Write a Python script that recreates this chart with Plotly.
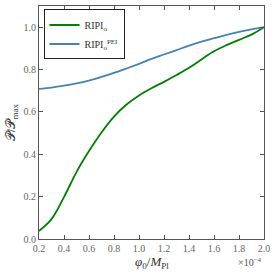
import plotly.graph_objects as go

phi = [0.2, 0.3, 0.4, 0.5, 0.6, 0.7, 0.8, 0.9, 1.0, 1.1, 1.2, 1.3, 1.4, 1.5, 1.6, 1.7, 1.8, 1.9, 2.0]
ripi_o = [0.038, 0.094, 0.198, 0.316, 0.415, 0.503, 0.578, 0.635, 0.678, 0.712, 0.742, 0.774, 0.808, 0.848, 0.886, 0.915, 0.94, 0.965, 1.0]
ripi_pei = [0.709, 0.715, 0.724, 0.735, 0.748, 0.765, 0.784, 0.805, 0.827, 0.85, 0.871, 0.892, 0.913, 0.932, 0.948, 0.964, 0.978, 0.99, 1.0]
xticks = [0.2, 0.4, 0.6, 0.8, 1.0, 1.2, 1.4, 1.6, 1.8, 2.0]
yticks = [0.0, 0.2, 0.4, 0.6, 0.8, 1.0]

SERIF = "Liberation Serif, DejaVu Serif, serif"

fig = go.Figure()
fig.add_trace(go.Scatter(x=phi, y=ripi_o, mode="lines",
                         line=dict(color="#008000", width=1.8, shape="spline", smoothing=1.0),
                         name="RIPI<sub>o</sub>"))
fig.add_trace(go.Scatter(x=phi, y=ripi_pei, mode="lines",
                         line=dict(color="#4682b4", width=1.8, shape="spline", smoothing=1.0),
                         name="RIPI<sub>o</sub><sup>PEI</sup>"))

axis_common = dict(showline=True, linecolor="#555555", linewidth=1.2, mirror="ticks", ticks="inside",
                   ticklen=4, tickcolor="#555555", showgrid=False, zeroline=False,
                   tickfont=dict(family=SERIF, size=10, color="#666666"))
fig.update_xaxes(range=[0.2, 2.0], tickvals=xticks, ticktext=[f"{v:.1f}" for v in xticks],
                 automargin=False, **axis_common)
fig.update_yaxes(range=[0, 1.1], tickvals=yticks, ticktext=[f"{v:.1f}" for v in yticks],
                 title=dict(text="𝒫/𝒫<sub>max</sub>",
                            font=dict(family=SERIF, size=13, color="#333333"), standoff=4),
                 automargin=False, **axis_common)
fig.add_annotation(text="<i>φ</i><sub>0</sub>/<i>M</i><sub>Pl</sub>", xref="paper", yref="paper",
                   x=0.5, y=-0.102, xanchor="center", yanchor="middle", showarrow=False,
                   font=dict(family=SERIF, size=13, color="#333333"))
fig.add_annotation(text="×10<sup>−4</sup>", xref="paper", yref="paper", x=1.0, y=-0.065,
                   xanchor="right", yanchor="top", showarrow=False,
                   font=dict(family=SERIF, size=10, color="#555555"))
fig.update_layout(width=276, height=275, margin=dict(l=39, r=12, t=6, b=36, autoexpand=False),
                  paper_bgcolor="white", plot_bgcolor="white",
                  legend=dict(x=0.02, y=0.985, xanchor="left", yanchor="top", bordercolor="#222222",
                              borderwidth=1, bgcolor="white",
                              font=dict(family=SERIF, size=10, color="#333333"),
                              tracegroupgap=0, itemwidth=30),
                  showlegend=True)
fig.write_html("out.html", config={"displayModeBar": False},
               post_script="document.body.style.margin='0';")
